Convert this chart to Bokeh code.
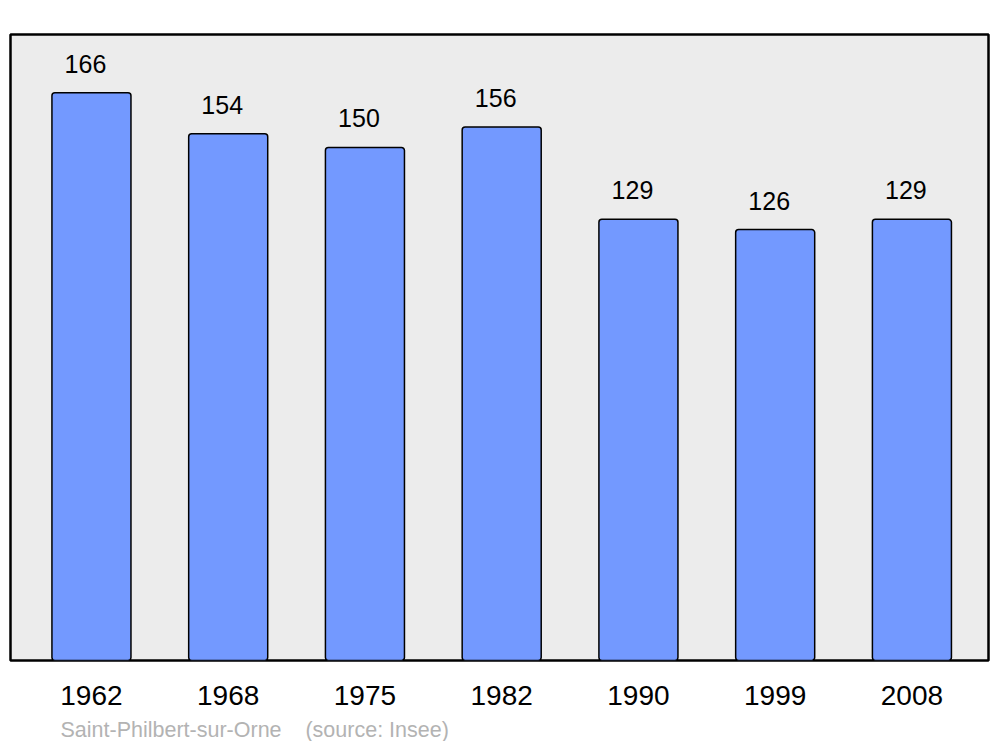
from bokeh.plotting import figure
from bokeh.models import Range1d, FixedTicker, Title, ColumnDataSource
from bokeh.core.properties import value
from bokeh.embed import file_html
from bokeh.resources import INLINE

years = ["1962", "1968", "1975", "1982", "1990", "1999", "2008"]
population = [166, 154, 150, 156, 129, 126, 129]
caption = "Saint-Philbert-sur-Orne\u00a0\u00a0\u00a0\u00a0(source: Insee)"

xs = list(range(len(years)))
src = ColumnDataSource(dict(x=xs, top=population, lab=[str(v) for v in population]))

p = figure(width=990, height=741, output_backend="svg", toolbar_location=None,
           x_range=Range1d(-0.592, 6.56), y_range=Range1d(0, 183.04),
           min_border_left=10, min_border_right=2, min_border_top=34, min_border_bottom=20)
p.background_fill_color = "#ececec"
p.border_fill_color = "white"
p.outline_line_color = "black"
p.outline_line_width = 2.5
p.grid.visible = False
p.yaxis.visible = False

p.vbar(x="x", top="top", bottom=0, width=0.578, source=src, fill_color="#7399ff",
       line_color="black", line_width=1.5, border_radius=3)

p.text(x="x", y="top", text="lab", source=src, x_offset=-6, y_offset=-29,
       text_align="center", text_baseline="alphabetic", text_font_size="25px",
       text_font=value("Liberation Sans"), text_color="black")

ax = p.xaxis[0]
ax.ticker = FixedTicker(ticks=xs)
ax.major_label_overrides = {i: y for i, y in enumerate(years)}
ax.axis_line_color = None
ax.major_tick_line_color = None
ax.minor_tick_line_color = None
ax.major_label_text_font_size = "28px"
ax.major_label_text_font = "Liberation Sans"
ax.major_label_text_color = "black"
ax.major_label_standoff = 19

p.add_layout(Title(text="\u00a0", text_font_size="6px", standoff=0,
                   text_color="white"), "below")
p.add_layout(Title(text=caption, align="left", offset=50, text_font_size="21.5px",
                   text_font="Liberation Sans", text_color="#b3b3b3",
                   text_font_style="normal", standoff=0, text_baseline="top"), "below")

open("out.html", "w").write(file_html(p, INLINE))
